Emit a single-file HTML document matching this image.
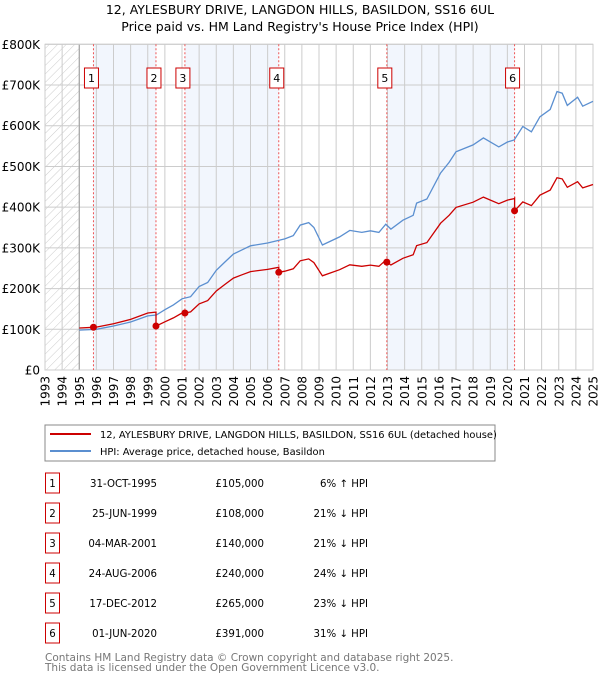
<!DOCTYPE html>
<html><head><meta charset="utf-8"><style>
body{margin:0;background:#fff;width:600px;height:680px;overflow:hidden;font-family:"Liberation Sans","DejaVu Sans",sans-serif}
svg text{font-family:"DejaVu Sans","Liberation Sans",sans-serif}
</style></head><body>
<svg id="c" width="600" height="680">
<defs><pattern id="hatch" width="6" height="6" patternUnits="userSpaceOnUse" patternTransform="rotate(45)"><line x1="0" y1="0" x2="0" y2="6" stroke="#ccc" stroke-width="1"/></pattern></defs>
<text x="300" y="14" text-anchor="middle" font-size="12.5">12, AYLESBURY DRIVE, LANGDON HILLS, BASILDON, SS16 6UL</text>
<text x="300" y="31" text-anchor="middle" font-size="12.5">Price paid vs. HM Land Registry's House Price Index (HPI)</text>
<g id="plot"></g>
<rect x="45" y="425" width="450" height="36" fill="#fff" stroke="#888"/>
<line x1="50" y1="434" x2="91" y2="434" stroke="#cc0000" stroke-width="2"/>
<text x="100" y="438" font-size="9.9">12, AYLESBURY DRIVE, LANGDON HILLS, BASILDON, SS16 6UL (detached house)</text>
<line x1="50" y1="451" x2="91" y2="451" stroke="#5b8fd0" stroke-width="2"/>
<text x="100" y="455" font-size="9.9">HPI: Average price, detached house, Basildon</text>
<g id="table"></g>
<text x="45" y="661" font-size="10.5" fill="#777">Contains HM Land Registry data © Crown copyright and database right 2025.</text>
<text x="45" y="671" font-size="10.5" fill="#777">This data is licensed under the Open Government Licence v3.0.</text>
</svg>
<script>
const hpiYears=[1995,1996,1997,1998,1999,1999.5,2000,2000.5,2001,2001.5,2002,2002.5,2003,2003.5,2004,2004.5,2005,2006,2007,2007.5,2007.9,2008.4,2008.7,2009.2,2010.2,2010.8,2011.5,2012,2012.5,2012.9,2013.2,2013.9,2014.5,2014.7,2015.3,2016.1,2016.6,2017,2018,2018.6,2019.5,2020,2020.4,2020.9,2021.4,2021.9,2022.5,2022.9,2023.2,2023.5,2024.1,2024.4,2025];
const hpiValues=[98,100,108,118,133,135,148,160,175,180,205,215,245,265,285,295,305,312,322,330,356,362,350,307,327,343,338,342,338,358,346,368,380,410,420,484,510,536,553,570,548,560,565,598,585,622,640,684,680,650,670,648,660];
const saleYears=[1995.83,1999.48,2001.17,2006.65,2012.96,2020.42];
const salePrices=[105,108,140,240,265,391];
const saleDates=["31-OCT-1995","25-JUN-1999","04-MAR-2001","24-AUG-2006","17-DEC-2012","01-JUN-2020"];
const salePriceLabels=["£105,000","£108,000","£140,000","£240,000","£265,000","£391,000"];
const saleHpiLabels=["6% ↑ HPI","21% ↓ HPI","21% ↓ HPI","24% ↓ HPI","23% ↓ HPI","31% ↓ HPI"];
const yTicks=[0,100,200,300,400,500,600,700,800];
const yTickLabels=["£0","£100K","£200K","£300K","£400K","£500K","£600K","£700K","£800K"];
const xTicks=[1993,1994,1995,1996,1997,1998,1999,2000,2001,2002,2003,2004,2005,2006,2007,2008,2009,2010,2011,2012,2013,2014,2015,2016,2017,2018,2019,2020,2021,2022,2023,2024,2025];

const X0=45,X1=593,Y0=370,Y1=44.3;
const xs=t=>X0+(t-1993)/(2025-1993)*(X1-X0);
const ys=v=>Y0-v/800*(Y0-Y1);
const NS="http://www.w3.org/2000/svg";
function mk(tag,attrs,parent,txt){const e=document.createElementNS(NS,tag);for(const k in attrs)e.setAttribute(k,attrs[k]);if(txt!==undefined)e.textContent=txt;parent.appendChild(e);return e;}
function hpiAt(t){if(t<=hpiYears[0])return hpiValues[0];for(let i=1;i<hpiYears.length;i++){if(t<=hpiYears[i]){const f=(t-hpiYears[i-1])/(hpiYears[i]-hpiYears[i-1]);return hpiValues[i-1]+f*(hpiValues[i]-hpiValues[i-1]);}}return hpiValues[hpiValues.length-1];}
const P=document.getElementById('plot');
for(let i=0;i<saleYears.length;i+=2){const a=saleYears[i],b=i+1<saleYears.length?saleYears[i+1]:2025;
const r=mk('rect',{x:xs(a),y:Y1,width:xs(b)-xs(a),height:Y0-Y1,fill:'#f2f6fd'},P);

}
const h=mk('rect',{x:X0,y:Y1,width:xs(1995)-X0,height:Y0-Y1,fill:'url(#hatch)'},P);


yTicks.forEach((v,i)=>{mk('line',{x1:X0,x2:X1,y1:ys(v),y2:ys(v),stroke:'#ccc'},P);
const t=mk('text',{x:40,y:ys(v)+4.5,'text-anchor':'end','font-size':12},P,yTickLabels[i]);

});
xTicks.forEach(y=>{mk('line',{x1:xs(y),x2:xs(y),y1:Y1,y2:Y0,stroke:'#ccc'},P);
const t=mk('text',{x:0,y:0,'text-anchor':'end','font-size':12,transform:`translate(${xs(y)+4.5},${Y0+6}) rotate(-90)`},P,String(y));

});
mk('line',{x1:xs(1995),x2:xs(1995),y1:Y1,y2:Y0,stroke:'#999'},P);
mk('rect',{x:X0,y:Y1,width:X1-X0,height:Y0-Y1,fill:'none',stroke:'#ccc'},P);
saleYears.forEach((s,i)=>{const l=mk('line',{x1:xs(s),x2:xs(s),y1:Y1,y2:Y0,stroke:'#e55','stroke-dasharray':'2,2'},P);


const b=mk('rect',{x:xs(s)-9,y:68,width:14,height:20,fill:'#fff',stroke:'#cc0000'},P);


mk('text',{x:xs(s)-2,y:82,'text-anchor':'middle','font-size':11},P,String(i+1));});
let d='';hpiYears.forEach((t,i)=>{d+=(i?'L':'M')+xs(t).toFixed(1)+','+ys(hpiValues[i]).toFixed(1);});
const hp=mk('path',{d:d,fill:'none',stroke:'#5b8fd0','stroke-width':1.3},P);


let pts=[];const times=[...new Set([...hpiYears,...saleYears])].sort((a,b)=>a-b);
times.forEach(t=>{let k=0;for(let j=0;j<saleYears.length;j++)if(saleYears[j]<=t)k=j;
if(saleYears.includes(t)&&saleYears.indexOf(t)>0){const j=saleYears.indexOf(t)-1;pts.push([t,salePrices[j]*hpiAt(t)/hpiAt(saleYears[j])]);}
pts.push([t,salePrices[k]*hpiAt(t)/hpiAt(saleYears[k])]);});
d='';pts.forEach((p,i)=>{d+=(i?'L':'M')+xs(p[0]).toFixed(1)+','+ys(p[1]).toFixed(1);});
const pp=mk('path',{d:d,fill:'none',stroke:'#cc0000','stroke-width':1.3},P);


saleYears.forEach((s,i)=>{const c=mk('circle',{cx:xs(s),cy:ys(salePrices[i]),r:3.5,fill:'#cc0000'},P);

});
const T=document.getElementById('table');
saleYears.forEach((s,i)=>{const cy=483+i*30;
const b=mk('rect',{x:45.5,y:cy-10,width:14,height:20,fill:'#fff',stroke:'#cc0000'},T);


mk('text',{x:52.5,y:cy+4,'text-anchor':'middle','font-size':10.2},T,String(i+1));
const a=mk('text',{x:157,y:cy+4,'text-anchor':'end','font-size':10.2},T,saleDates[i]);


const p=mk('text',{x:264,y:cy+4,'text-anchor':'end','font-size':10.2},T,salePriceLabels[i]);


const q=mk('text',{x:368,y:cy+4,'text-anchor':'end','font-size':10.2},T,saleHpiLabels[i]);

});
</script>
</body></html>
